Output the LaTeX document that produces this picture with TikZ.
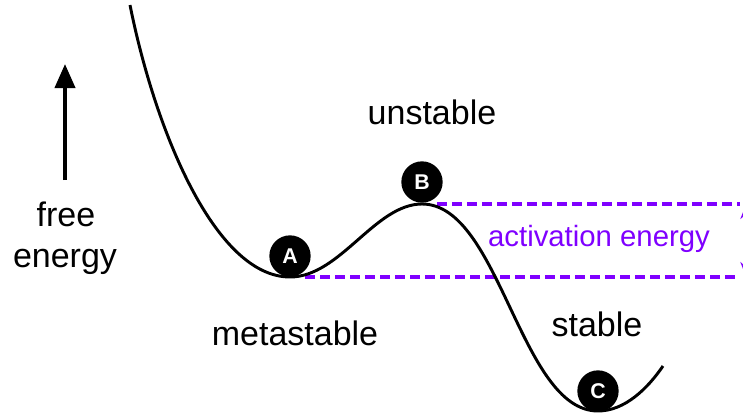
\documentclass[tikz,border=0pt]{standalone}
\usepackage{fontspec}
\setmainfont{Liberation Sans}
\usetikzlibrary{arrows.meta}
\definecolor{violetline}{HTML}{7F00FF}
\tikzset{
  biglabel/.style={font=\fontsize{25.5}{30}\selectfont, anchor=base, inner sep=0pt},
  purplelabel/.style={font=\fontsize{22}{26}\selectfont, anchor=base, inner sep=0pt, text=violetline},
  ball/.style={circle, fill=black, minimum size=31pt, inner sep=0pt, text=white, font=\fontsize{16}{18}\selectfont\bfseries},
  curve/.style={line width=2.2pt},
  level/.style={violetline, line width=2.5pt, dash pattern=on 7.5pt off 3.75pt},
}
\begin{document}
\begin{tikzpicture}[x=0.75pt,y=-0.75pt]
\useasboundingbox (0,0) rectangle (743,415);
\clip (0,0) rectangle (743,415);
% points of the curve
\coordinate (top) at (130,5);
\coordinate (pA) at (290,277);
\coordinate (pB) at (422,204);
\coordinate (pC) at (598,411);
\coordinate (end) at (663,366);
% level lines
\coordinate (lowR) at (740,277);
\coordinate (highR) at (740,204);
\coordinate (lowL) at (305,277);
\coordinate (highL) at (437,204);
\draw[level] (lowL) -- (lowR);
\draw[level] (highL) -- (highR);
\coordinate (arrTop) at (745,207);
\coordinate (arrBot) at (745,274);
\draw[violetline, line width=1.5pt, {Stealth[length=9pt,width=7pt]}-{Stealth[length=9pt,width=7pt]}] (arrTop) -- (arrBot);
% energy curve
\draw[curve] (top) .. controls (155,130) and (215,277) .. (pA)
  .. controls (340,277) and (375,204) .. (pB)
  .. controls (500,204) and (520,411) .. (pC)
  .. controls (625,411) and (648,388) .. (end);
% balls
\node[ball] (A) at (290,256) {A};
\node[ball] (B) at (422,182) {B};
\node[ball] (C) at (598,391) {C};
% labels
\node[biglabel] (unstable) at (432,124) {unstable};
\node[biglabel] (metastable) at (295,345) {metastable};
\node[biglabel] (stable) at (597,336) {stable};
\node[purplelabel] (act) at (599,246) {activation energy};
\node[biglabel] (free) at (66,226) {free};
\node[biglabel] (energy) at (65,267) {energy};
% axis arrow
\coordinate (axLow) at (65,180);
\coordinate (axHigh) at (65,64);
\draw[line width=3pt, -{Triangle[length=18pt,width=15pt]}] (axLow) -- (axHigh);
\end{tikzpicture}
\end{document}
